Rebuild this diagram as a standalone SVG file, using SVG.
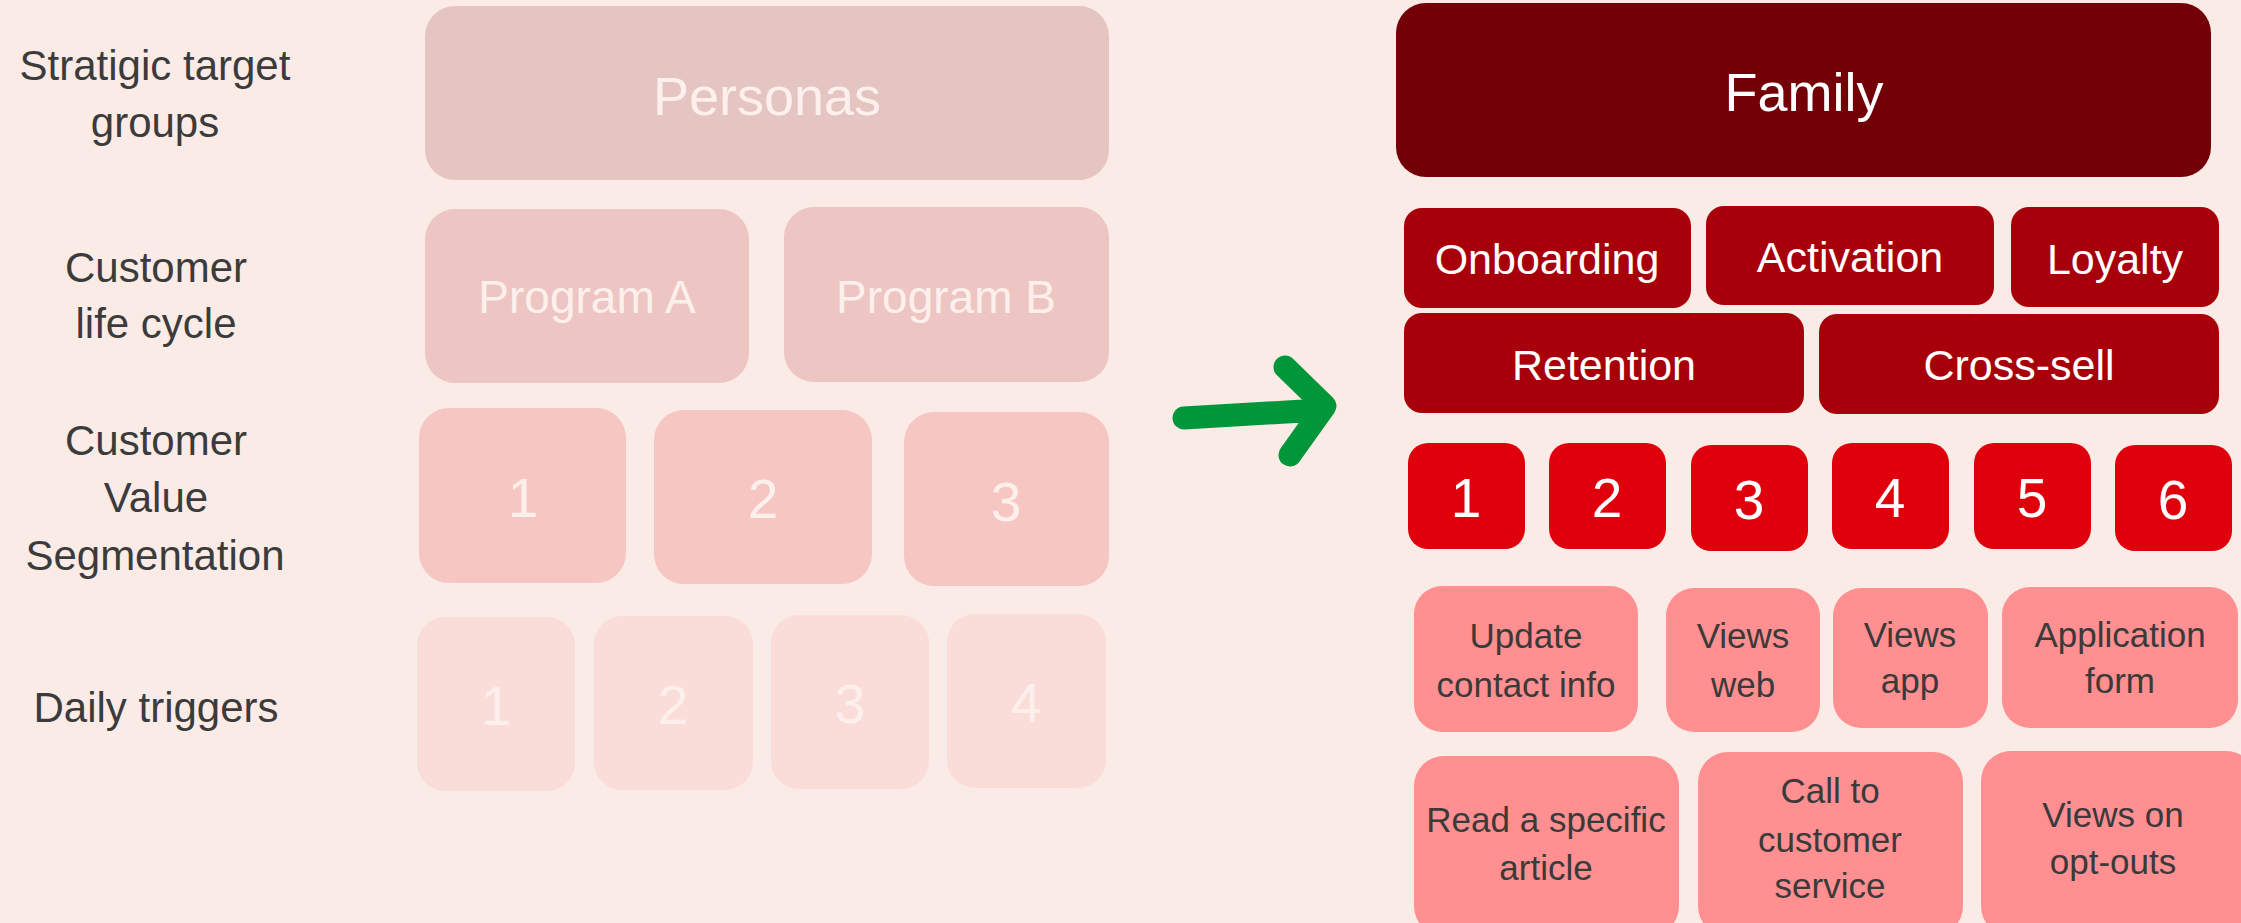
<svg xmlns="http://www.w3.org/2000/svg" width="2241" height="923" viewBox="0 0 2241 923">
<style>
text{font-family:"Liberation Sans",Arial,sans-serif;text-anchor:middle}
.lbl{font-size:42px;fill:#3b3b3b}
.pale{fill:#fdf0ec}
.wh{fill:#ffffff}
.dk{fill:#3a3a3a;font-size:35px}
.personas{fill:#e5c5c2}
.prog{fill:#edc6c3}
.seg{fill:#f6c6c3}
.trg{fill:#fadcd8}
.fam{fill:#730007}
.mid{fill:#a8000a}
.num{fill:#e0000b}
.evt{fill:#ff8f91}
</style>
<rect x="0" y="0" width="2241" height="923" fill="#fbebe6"/>
<g id="row-labels">
<text class="lbl" x="155" y="80">Stratigic target</text>
<text class="lbl" x="155" y="137">groups</text>
<text class="lbl" x="156" y="282">Customer</text>
<text class="lbl" x="156" y="338">life cycle</text>
<text class="lbl" x="156" y="455">Customer</text>
<text class="lbl" x="156" y="512">Value</text>
<text class="lbl" x="155" y="570">Segmentation</text>
<text class="lbl" x="156" y="722">Daily triggers</text>
</g>
<g id="personas"><rect class="personas" x="425" y="6" width="684" height="174" rx="30"/><text class="pale" x="767" y="115" font-size="54">Personas</text></g>
<g id="program-a"><rect class="prog" x="425" y="209" width="324" height="174" rx="30"/><text class="pale" x="587" y="313" font-size="46">Program A</text></g>
<g id="program-b"><rect class="prog" x="784" y="207" width="325" height="175" rx="30"/><text class="pale" x="946" y="313" font-size="46">Program B</text></g>
<g id="seg-1"><rect class="seg" x="419" y="408" width="207" height="175" rx="30"/><text class="pale" x="523" y="517" font-size="55">1</text></g>
<g id="seg-2"><rect class="seg" x="654" y="410" width="218" height="174" rx="30"/><text class="pale" x="763" y="518" font-size="55">2</text></g>
<g id="seg-3"><rect class="seg" x="904" y="412" width="205" height="174" rx="30"/><text class="pale" x="1006" y="521" font-size="55">3</text></g>
<g id="trig-1"><rect class="trg" x="417" y="617" width="158" height="174" rx="28"/><text class="pale" x="496" y="725" font-size="55">1</text></g>
<g id="trig-2"><rect class="trg" x="594" y="616" width="159" height="174" rx="28"/><text class="pale" x="673" y="724" font-size="55">2</text></g>
<g id="trig-3"><rect class="trg" x="771" y="615" width="158" height="174" rx="28"/><text class="pale" x="850" y="723" font-size="55">3</text></g>
<g id="trig-4"><rect class="trg" x="947" y="614" width="159" height="174" rx="28"/><text class="pale" x="1026" y="722" font-size="55">4</text></g>
<g id="connectors">
<path d="M1184,418 L1320,410 M1285,367 L1325,406 L1290,455" fill="none" stroke="#009639" stroke-width="23" stroke-linecap="round" stroke-linejoin="round"/>
</g>
<g id="family"><rect class="fam" x="1396" y="3" width="815" height="174" rx="30"/><text class="wh" x="1804" y="111" font-size="54">Family</text></g>
<g id="onboarding"><rect class="mid" x="1404" y="208" width="287" height="100" rx="18"/><text class="wh" x="1547" y="274" font-size="43">Onboarding</text></g>
<g id="activation"><rect class="mid" x="1706" y="206" width="288" height="99" rx="18"/><text class="wh" x="1850" y="272" font-size="43">Activation</text></g>
<g id="loyalty"><rect class="mid" x="2011" y="207" width="208" height="100" rx="18"/><text class="wh" x="2115" y="274" font-size="43">Loyalty</text></g>
<g id="retention"><rect class="mid" x="1404" y="313" width="400" height="100" rx="18"/><text class="wh" x="1604" y="380" font-size="43">Retention</text></g>
<g id="cross-sell"><rect class="mid" x="1819" y="314" width="400" height="100" rx="18"/><text class="wh" x="2019" y="380" font-size="43">Cross-sell</text></g>
<g id="n1"><rect class="num" x="1408" y="443" width="117" height="106" rx="20"/><text class="wh" x="1466" y="517" font-size="55">1</text></g>
<g id="n2"><rect class="num" x="1549" y="443" width="117" height="106" rx="20"/><text class="wh" x="1607" y="517" font-size="55">2</text></g>
<g id="n3"><rect class="num" x="1691" y="445" width="117" height="106" rx="20"/><text class="wh" x="1749" y="519" font-size="55">3</text></g>
<g id="n4"><rect class="num" x="1832" y="443" width="117" height="106" rx="20"/><text class="wh" x="1890" y="517" font-size="55">4</text></g>
<g id="n5"><rect class="num" x="1974" y="443" width="117" height="106" rx="20"/><text class="wh" x="2032" y="517" font-size="55">5</text></g>
<g id="n6"><rect class="num" x="2115" y="445" width="117" height="106" rx="20"/><text class="wh" x="2173" y="519" font-size="55">6</text></g>
<g id="update-contact"><rect class="evt" x="1414" y="586" width="224" height="146" rx="28"/><text class="dk" x="1526" y="648">Update</text><text class="dk" x="1526" y="697">contact info</text></g>
<g id="views-web"><rect class="evt" x="1666" y="588" width="154" height="144" rx="28"/><text class="dk" x="1743" y="648">Views</text><text class="dk" x="1743" y="697">web</text></g>
<g id="views-app"><rect class="evt" x="1833" y="588" width="155" height="140" rx="28"/><text class="dk" x="1910" y="647">Views</text><text class="dk" x="1910" y="693">app</text></g>
<g id="application-form"><rect class="evt" x="2002" y="587" width="236" height="141" rx="28"/><text class="dk" x="2120" y="647">Application</text><text class="dk" x="2120" y="693">form</text></g>
<g id="read-article"><rect class="evt" x="1414" y="756" width="265" height="180" rx="30"/><text class="dk" x="1546" y="832">Read a specific</text><text class="dk" x="1546" y="880">article</text></g>
<g id="call-service"><rect class="evt" x="1698" y="752" width="265" height="184" rx="30"/><text class="dk" x="1830" y="803">Call to</text><text class="dk" x="1830" y="852">customer</text><text class="dk" x="1830" y="898">service</text></g>
<g id="views-optouts"><rect class="evt" x="1981" y="751" width="275" height="185" rx="30"/><text class="dk" x="2113" y="827">Views on</text><text class="dk" x="2113" y="874">opt-outs</text></g>
</svg>
